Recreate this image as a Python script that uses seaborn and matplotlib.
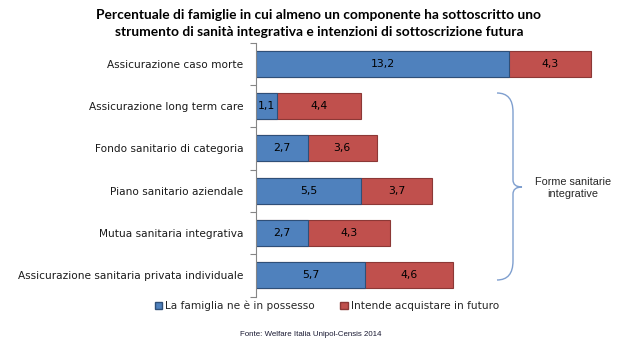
import numpy as np
import pandas as pd
import matplotlib.pyplot as plt
import seaborn as sns
from matplotlib.patches import Patch, PathPatch
from matplotlib.path import Path

# =====================================================
# DATI
# =====================================================

categorie = [
    "Assicurazione caso morte",
    "Assicurazione long term care",
    "Fondo sanitario di categoria",
    "Piano sanitario aziendale",
    "Mutua sanitaria integrativa",
    "Assicurazione sanitaria privata individuale",
]
possesso = [13.2, 1.1, 2.7, 5.5, 2.7, 5.7]
futuro = [4.3, 4.4, 3.6, 3.7, 4.3, 4.6]

serie = ["La famiglia ne è in possesso", "Intende acquistare in futuro"]
titolo = ("Percentuale di famiglie in cui almeno un componente ha sottoscritto uno\n"
          "strumento di sanità integrativa e intenzioni di sottoscrizione futura")
fonte = "Fonte: Welfare Italia Unipol-Censis 2014"
gruppo = "Forme sanitarie\nintegrative"

blu = "#4F81BD"
rosso = "#C0504D"

df = pd.DataFrame({"cat": categorie, "possesso": possesso, "futuro": futuro})
df["totale"] = df["possesso"] + df["futuro"]

# =====================================================
# FIGURA
# =====================================================

sns.set_style("white")
plt.rcParams["font.family"] = ["DejaVu Sans"]

W, H = 631, 359
fig = plt.figure(figsize=(W / 100, H / 100), dpi=100)
ax = fig.add_axes([256 / W, 1 - 296.5 / H, 345 / W, 254 / H])

# barra totale (rossa) sotto, barra possesso (blu) sopra
sns.barplot(data=df, x="totale", y="cat", orient="h", color=rosso,
            saturation=1, width=0.62, edgecolor="#8C3836", linewidth=0.8, ax=ax)
sns.barplot(data=df, x="possesso", y="cat", orient="h", color=blu,
            saturation=1, width=0.62, edgecolor="#2F4F78", linewidth=0.8, ax=ax)

ax.set_xlim(0, 18)
ax.set_ylim(5.5, -0.5)
ax.set_xlabel("")
ax.set_ylabel("")
ax.set_xticks([])

for s in ["top", "right", "bottom"]:
    ax.spines[s].set_visible(False)
ax.spines["left"].set_color("#868686")
ax.spines["left"].set_linewidth(0.8)

ax.set_yticks(range(len(categorie)))
ax.set_yticklabels(categorie, fontsize=7.6, color="#1a1a1a")
ax.tick_params(axis="y", which="major", length=0, pad=9)
ax.set_yticks(np.arange(-0.5, len(categorie)), minor=True)
ax.tick_params(axis="y", which="minor", left=True, length=4, width=0.8,
               color="#868686", direction="out")

# etichette valori
for i, row in df.iterrows():
    ax.text(row["possesso"] / 2, i, f"{row['possesso']:.1f}".replace(".", ","),
            ha="center", va="center", fontsize=7.8, color="black")
    ax.text(row["possesso"] + row["futuro"] / 2, i,
            f"{row['futuro']:.1f}".replace(".", ","),
            ha="center", va="center", fontsize=7.8, color="black")

# titolo
fig.text(319 / W, 1 - 23.5 / H, titolo, ha="center", va="center",
         fontsize=9.9, fontweight="bold", family=["Lato", "DejaVu Sans"],
         linespacing=1.45, color="black")

# parentesi graffa
pts = [(497, 93), (513, 93), (513, 112), (513, 180), (513, 187), (522, 187),
       (513, 187), (513, 194), (513, 261), (513, 280), (497, 280)]
px = [(x / W, 1 - y / H) for x, y in pts]
codes = [Path.MOVETO, Path.CURVE3, Path.CURVE3, Path.LINETO, Path.CURVE3, Path.CURVE3,
         Path.CURVE3, Path.CURVE3, Path.LINETO, Path.CURVE3, Path.CURVE3]
brace = PathPatch(Path(px, codes), transform=fig.transFigure, fill=False,
                  edgecolor="#7F9FCF", linewidth=1)
fig.patches.append(brace)
fig.text(573 / W, 1 - 188 / H, gruppo, ha="center", va="center", fontsize=7.8,
         family=["Liberation Sans", "DejaVu Sans"], linespacing=1.3)

# legenda
handles = [Patch(facecolor=blu, edgecolor="#2F4F78"),
           Patch(facecolor=rosso, edgecolor="#8C3836")]
fig.legend(handles, serie, loc="center", bbox_to_anchor=(327 / W, 1 - 306 / H),
           ncol=2, frameon=False, fontsize=7.6, handlelength=0.7, handleheight=0.7,
           handletextpad=0.3, columnspacing=2.4)

# fonte
fig.text(311 / W, 1 - 334 / H, fonte, ha="center", va="center", fontsize=5.7,
         family=["Liberation Sans", "DejaVu Sans"], color="#1a1a33")

fig.savefig("out.png", dpi=100)
